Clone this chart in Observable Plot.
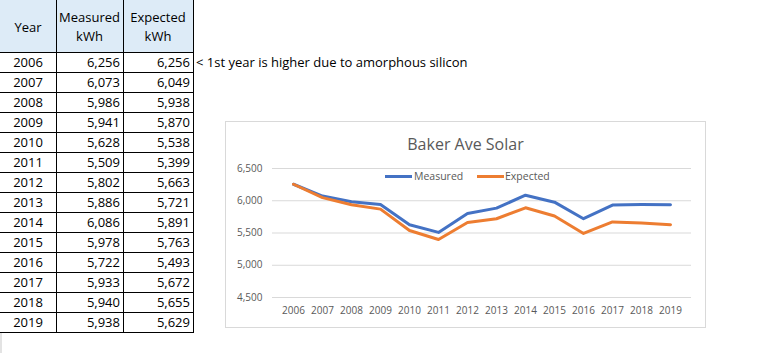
<!DOCTYPE html>
<html>
<head>
<meta charset="utf-8">
<script src="https://cdn.jsdelivr.net/npm/d3@7"></script>
<script src="https://cdn.jsdelivr.net/npm/@observablehq/plot@0.6"></script>
<style>
  html, body { margin: 0; padding: 0; background: #fff; }
  body { width: 770px; height: 353px; position: relative; overflow: hidden; font-family: "Open Sans", sans-serif; }
  .abs { position: absolute; }
  .cell { position: absolute; font-size: 13px; color: #000; line-height: 20px; height: 20px; white-space: nowrap; }
  .hl { position: absolute; height: 1px; background: #000; }
  .vl { position: absolute; width: 1px; background: #000; }
  #chartbox { position: absolute; left: 225px; top: 121px; width: 479px; height: 205px; border: 1px solid #d9d9d9; background: #fff; }
  #title { position: absolute; left: 0; width: 479px; top: 11px; text-align: center; font-size: 16px; color: #595959; line-height: 22px; }
  #legend { position: absolute; top: 46px; left: 0; height: 16px; font-size: 10.5px; color: #595959; }
  #plot { position: absolute; left: 0; top: 0; }
</style>
</head>
<body>
<div id="table"></div>
<div id="chartbox">
  <div id="plot"></div>
  <div id="title"></div>
  <div id="legend"></div>
</div>
<script>
// ---- data ----
const years = [2006, 2007, 2008, 2009, 2010, 2011, 2012, 2013, 2014, 2015, 2016, 2017, 2018, 2019];
const measured = [6256, 6073, 5986, 5941, 5628, 5509, 5802, 5886, 6086, 5978, 5722, 5933, 5940, 5938];
const expected = [6256, 6049, 5938, 5870, 5538, 5399, 5663, 5721, 5891, 5763, 5493, 5672, 5655, 5629];
const seriesNames = ["Measured", "Expected"];
const seriesColors = ["#4472C4", "#ED7D31"];
const yTicks = [4500, 5000, 5500, 6000, 6500];
const headerYear = ["Year"];
const headerMeasured = ["Measured", "kWh"];
const headerExpected = ["Expected", "kWh"];
const noteText = "< 1st year is higher due to amorphous silicon";
const chartTitle = "Baker Ave Solar";

const fmt = d3.format(",");

// ---- spreadsheet table ----
const table = document.getElementById("table");
const colX = [0, 56, 123, 193];
const headerBottom = 52, rowH = 20;
function add(el) { table.appendChild(el); return el; }
function div(cls, styles, text) {
  const e = document.createElement("div");
  e.className = cls;
  Object.assign(e.style, styles);
  if (text != null) e.textContent = text;
  return add(e);
}
// header background
div("abs", {left: "0px", top: "0px", width: colX[3] + "px", height: headerBottom + "px", background: "#DDEBF7"});
// header texts
const headers = [headerYear, headerMeasured, headerExpected];
headers.forEach((lines, c) => {
  const w = colX[c + 1] - colX[c];
  const startY = lines.length === 1 ? 17 : 7;
  lines.forEach((t, i) => {
    div("cell", {left: colX[c] + "px", width: w + "px", textAlign: "center", top: (startY + i * 19) + "px"}, t);
  });
});
// rows
years.forEach((yr, i) => {
  const top = headerBottom + i * rowH;
  div("cell", {left: colX[0] + "px", width: (colX[1] - colX[0]) + "px", textAlign: "center", top: top + "px"}, String(yr));
  div("cell", {left: colX[1] + "px", width: (colX[2] - colX[1] - 3) + "px", textAlign: "right", top: top + "px"}, fmt(measured[i]));
  div("cell", {left: colX[2] + "px", width: (colX[3] - colX[2] - 3) + "px", textAlign: "right", top: top + "px"}, fmt(expected[i]));
});
// note
div("cell", {left: (colX[3] + 3) + "px", top: headerBottom + "px"}, noteText);
// grid lines
for (let i = 0; i <= years.length; i++) {
  div("hl", {left: "0px", width: (colX[3] + 1) + "px", top: (headerBottom + i * rowH) + "px"});
}
const tableBottom = headerBottom + years.length * rowH;
[colX[1], colX[2], colX[3]].forEach(x => {
  div("vl", {left: x + "px", top: "0px", height: (tableBottom + 1) + "px"});
});
div("abs", {left: "0px", top: (tableBottom + 1) + "px", width: "2px", height: (353 - tableBottom) + "px", background: "#e3e3e3"});

// ---- chart ----
document.getElementById("title").textContent = chartTitle;

const data = [];
years.forEach((yr, i) => {
  data.push({year: yr, series: seriesNames[0], value: measured[i]});
});
years.forEach((yr, i) => {
  data.push({year: yr, series: seriesNames[1], value: expected[i]});
});

const chart = Plot.plot({
  width: 479,
  height: 205,
  marginLeft: 46,
  marginRight: 14,
  marginTop: 46,
  marginBottom: 30,
  style: {fontFamily: "Open Sans", fontSize: "10px", color: "#595959", background: "transparent", overflow: "visible"},
  x: {type: "point", domain: years, padding: 0.5, label: null},
  y: {domain: [4500, 6500], label: null},
  color: {domain: seriesNames, range: seriesColors},
  marks: [
    Plot.gridY(yTicks, {stroke: "#d9d9d9", strokeOpacity: 1, strokeWidth: 1}),
    Plot.axisY(yTicks, {tickSize: 0, tickPadding: 10, tickFormat: fmt, label: null, fill: "#595959"}),
    Plot.axisX({tickSize: 0, tickPadding: 9, tickFormat: d => String(d), label: null, fill: "#595959"}),
    Plot.line(data, {x: "year", y: "value", z: "series", stroke: "series", strokeWidth: 3, strokeLinejoin: "round", strokeLinecap: "round"})
  ]
});
document.getElementById("plot").appendChild(chart);

// ---- legend ----
const legend = document.getElementById("legend");
const legendPos = [{swatch: 159, text: 188}, {swatch: 251, text: 279}];
seriesNames.forEach((name, i) => {
  const sw = document.createElement("div");
  Object.assign(sw.style, {position: "absolute", left: legendPos[i].swatch + "px", top: "7px", width: "27px", height: "3px", background: seriesColors[i]});
  legend.appendChild(sw);
  const t = document.createElement("div");
  Object.assign(t.style, {position: "absolute", left: legendPos[i].text + "px", top: "0px", lineHeight: "16px", whiteSpace: "nowrap"});
  t.textContent = name;
  legend.appendChild(t);
});
</script>
</body>
</html>
